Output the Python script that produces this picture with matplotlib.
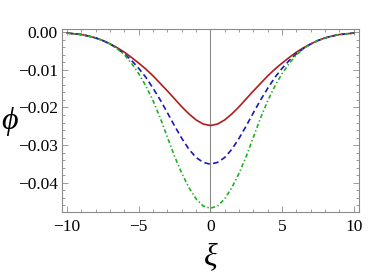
import matplotlib
matplotlib.use("Agg")
import matplotlib.pyplot as plt
from matplotlib.ticker import MultipleLocator

plt.rcParams['lines.scale_dashes'] = False

xi = [-10.0, -9.5, -9.0, -8.5, -8.0, -7.5, -7.0, -6.5, -6.0, -5.5, -5.0,
      -4.5, -4.0, -3.5, -3.0, -2.5, -2.0, -1.5, -1.0, -0.5, 0.0,
      0.5, 1.0, 1.5, 2.0, 2.5, 3.0, 3.5, 4.0, 4.5, 5.0,
      5.5, 6.0, 6.5, 7.0, 7.5, 8.0, 8.5, 9.0, 9.5, 10.0]

phi_red = [-0.0002, -0.0004, -0.0006, -0.0010, -0.0015, -0.0022, -0.0031, -0.0041, -0.0053, -0.0067, -0.0082,
           -0.0098, -0.0116, -0.0136, -0.0156, -0.0177, -0.0198, -0.0217, -0.0233, -0.0244, -0.0248,
           -0.0244, -0.0233, -0.0217, -0.0198, -0.0177, -0.0156, -0.0136, -0.0116, -0.0098, -0.0082,
           -0.0067, -0.0053, -0.0041, -0.0031, -0.0022, -0.0015, -0.0010, -0.0006, -0.0004, -0.0002]

phi_blue = [-0.0002, -0.0004, -0.0006, -0.0010, -0.0015, -0.0022, -0.0031, -0.0043, -0.0057, -0.0075, -0.0096,
            -0.0120, -0.0149, -0.0180, -0.0214, -0.0249, -0.0282, -0.0311, -0.0333, -0.0346, -0.0351,
            -0.0346, -0.0333, -0.0311, -0.0282, -0.0249, -0.0214, -0.0180, -0.0149, -0.0120, -0.0096,
            -0.0075, -0.0057, -0.0043, -0.0031, -0.0022, -0.0015, -0.0010, -0.0006, -0.0004, -0.0002]

phi_green = [-0.0002, -0.0004, -0.0006, -0.0010, -0.0015, -0.0022, -0.0031, -0.0044, -0.0060, -0.0083, -0.0110,
             -0.0143, -0.0182, -0.0228, -0.0279, -0.0330, -0.0375, -0.0413, -0.0443, -0.0462, -0.0468,
             -0.0462, -0.0443, -0.0413, -0.0375, -0.0330, -0.0279, -0.0228, -0.0182, -0.0143, -0.0110,
             -0.0083, -0.0060, -0.0044, -0.0031, -0.0022, -0.0015, -0.0010, -0.0006, -0.0004, -0.0002]

x_ticks = [-10, -5, 0, 5, 10]
x_labels = ["\u221210", "\u22125", "0", "5", "10"]
y_ticks = [0.00, -0.01, -0.02, -0.03, -0.04]
y_labels = ["0.00", "\u22120.01", "\u22120.02", "\u22120.03", "\u22120.04"]

fig = plt.figure(figsize=(3.71, 2.72), dpi=100)
ax = fig.add_axes([0.167, 0.2206, 0.801, 0.6739])

ax.axvline(0, color='#8a8a8a', lw=0.8, zorder=1)
ax.plot(xi, phi_red, color='#b01c1c', lw=1.2, zorder=3)
ax.plot(xi, phi_blue, color='#1a1ab4', lw=1.2, ls=(0, (4, 2.5)), zorder=3)
ax.plot(xi, phi_green, color='#22b022', lw=1.2, ls=(0, (3, 1.8, 1, 1.8)), zorder=3)

ax.set_xlim(-10.36, 10.38)
ax.set_ylim(-0.0478, 0.00096)

ax.set_xticks(x_ticks)
ax.set_xticklabels(x_labels)
ax.set_yticks(y_ticks)
ax.set_yticklabels(y_labels)
ax.xaxis.set_minor_locator(MultipleLocator(1))
ax.yaxis.set_minor_locator(MultipleLocator(0.002))

for s in ax.spines.values():
    s.set_color('#8a8a8a')
    s.set_linewidth(0.8)

ax.tick_params(which='both', direction='in', top=True, right=True, color='#8a8a8a', width=0.6)
ax.tick_params(which='major', length=4)
ax.tick_params(which='minor', length=2)
ax.tick_params(axis='x', which='major', pad=5)
ax.tick_params(axis='y', which='major', pad=3)
for lab in ax.get_xticklabels() + ax.get_yticklabels():
    lab.set_fontfamily('Liberation Serif')
    lab.set_fontsize(12.5)

fig.text(0.026, 0.553, "\u03d5", fontfamily='Liberation Serif', fontstyle='italic',
         fontsize=23, ha='center', va='center')
fig.text(0.569, 0.057, "\u03be", fontfamily='Liberation Serif', fontstyle='italic',
         fontsize=23, ha='center', va='center')

fig.savefig("out.png", dpi=100)
